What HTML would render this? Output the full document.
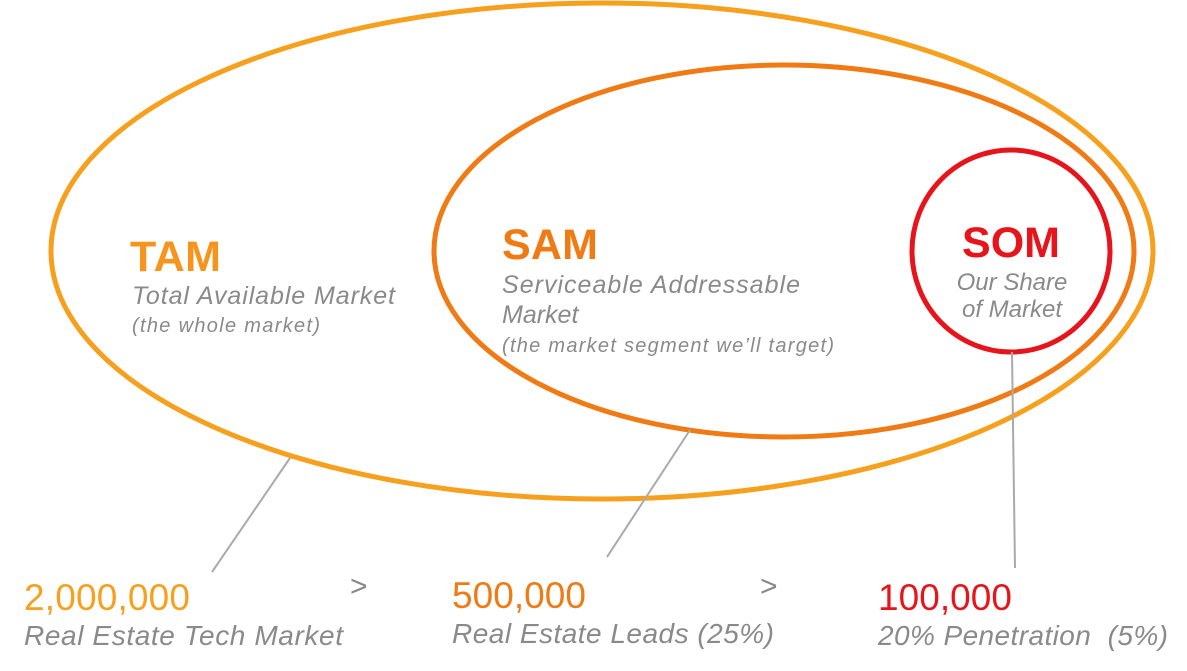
<!DOCTYPE html>
<html><head><meta charset="utf-8"><style>
body{margin:0;background:#fff;}
svg{display:block}
text{font-family:"Liberation Sans",sans-serif;}
.it{font-style:italic;fill:#8a8a8a}
</style></head><body>
<svg width="1187" height="671" viewBox="0 0 1187 671">
<ellipse cx="602" cy="251" rx="551" ry="248" fill="none" stroke="#F6A01E" stroke-width="5"/>
<ellipse cx="784" cy="251" rx="350" ry="186" fill="none" stroke="#F07A14" stroke-width="5"/>
<ellipse cx="1011" cy="251" rx="99" ry="101" fill="none" stroke="#E8141B" stroke-width="5"/>
<g stroke="#aaaaaa" stroke-width="2">
<line x1="290" y1="458" x2="212" y2="572"/>
<line x1="690" y1="430" x2="607" y2="557"/>
<line x1="1012" y1="352" x2="1015" y2="568"/>
</g>
<text x="130" y="271" font-size="43" font-weight="bold" fill="#F7941D" textLength="91">TAM</text>
<text x="132" y="304" font-size="25" class="it" textLength="263">Total Available Market</text>
<text x="132" y="332" font-size="20" class="it" textLength="188">(the whole market)</text>
<text x="502" y="259" font-size="43" font-weight="bold" fill="#F07A14" textLength="96">SAM</text>
<text x="502" y="293" font-size="25" class="it" textLength="298">Serviceable Addressable</text>
<text x="502" y="323" font-size="25" class="it">Market</text>
<text x="502" y="352" font-size="20" class="it" textLength="332">(the market segment we’ll target)</text>
<text x="1011" y="257" font-size="43" font-weight="bold" fill="#E8141B" text-anchor="middle">SOM</text>
<text x="1012" y="290" font-size="24" class="it" text-anchor="middle">Our Share</text>
<text x="1012" y="317" font-size="24" class="it" text-anchor="middle">of Market</text>
<text x="24" y="610" font-size="37" fill="#F6A01E" textLength="166">2,000,000</text>
<text x="24" y="645" font-size="28" class="it" textLength="319">Real Estate Tech Market</text>
<text x="350" y="596" font-size="30" fill="#888">&gt;</text>
<text x="452" y="608" font-size="37" fill="#F07A14" textLength="134">500,000</text>
<text x="452" y="643" font-size="28" class="it" textLength="322">Real Estate Leads (25%)</text>
<text x="760" y="596" font-size="30" fill="#888">&gt;</text>
<text x="878" y="610" font-size="37" fill="#E8141B" textLength="134">100,000</text>
<text x="878" y="645" font-size="28" class="it" xml:space="preserve" textLength="290">20% Penetration  (5%)</text>
</svg>
</body></html>
